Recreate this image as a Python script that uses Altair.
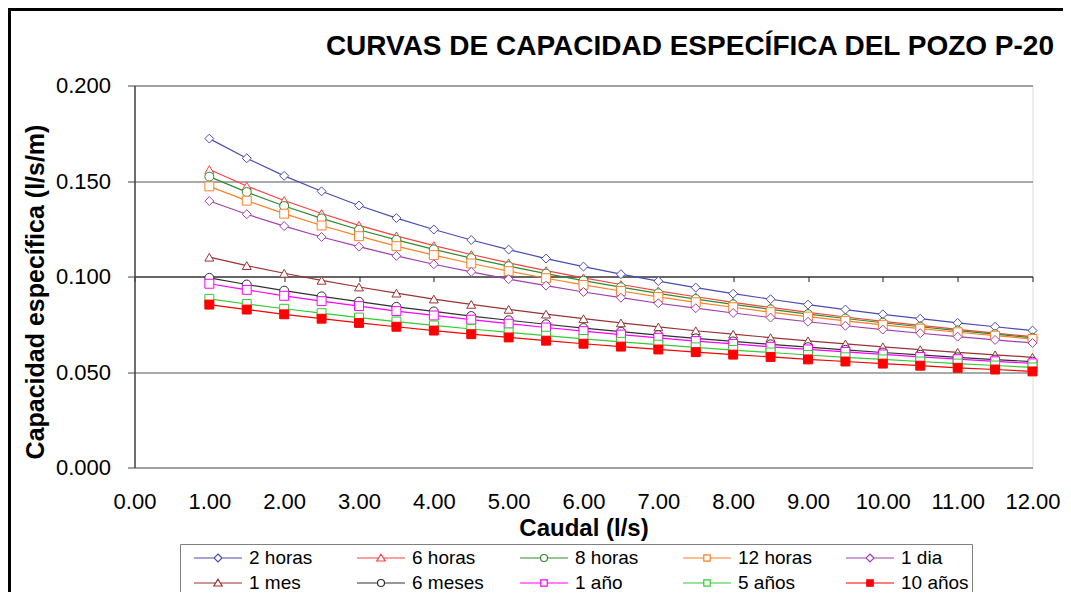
import altair as alt
import pandas as pd

# ---------------- data ----------------
caudal = [1.0, 1.5, 2.0, 2.5, 3.0, 3.5, 4.0, 4.5, 5.0, 5.5, 6.0, 6.5,
          7.0, 7.5, 8.0, 8.5, 9.0, 9.5, 10.0, 10.5, 11.0, 11.5, 12.0]

series_names = ["2 horas", "6 horas", "8 horas", "12 horas", "1 dia",
                "1 mes", "6 meses", "1 año", "5 años", "10 años"]

h2 = [0.1722, 0.1619, 0.1527, 0.1446, 0.1372, 0.1306, 0.1246, 0.1191, 0.1141, 0.1094, 0.1052, 0.1012,
      0.0976, 0.0942, 0.0910, 0.0881, 0.0853, 0.0827, 0.0802, 0.0779, 0.0757, 0.0737, 0.0717]
h6 = [0.1560, 0.1474, 0.1398, 0.1330, 0.1268, 0.1213, 0.1162, 0.1115, 0.1071, 0.1031, 0.0993, 0.0958,
      0.0925, 0.0894, 0.0865, 0.0838, 0.0812, 0.0788, 0.0765, 0.0744, 0.0723, 0.0704, 0.0685]
h8 = [0.1523, 0.1442, 0.1369, 0.1304, 0.1245, 0.1192, 0.1142, 0.1096, 0.1054, 0.1015, 0.0978, 0.0944,
      0.0912, 0.0882, 0.0854, 0.0828, 0.0803, 0.0780, 0.0758, 0.0737, 0.0717, 0.0698, 0.0679]
h12 = [0.1472, 0.1397, 0.1329, 0.1267, 0.1211, 0.1159, 0.1112, 0.1068, 0.1028, 0.0991, 0.0956, 0.0924,
       0.0893, 0.0865, 0.0839, 0.0813, 0.0790, 0.0768, 0.0747, 0.0727, 0.0708, 0.0690, 0.0673]
d1 = [0.1395, 0.1326, 0.1264, 0.1207, 0.1156, 0.1108, 0.1064, 0.1024, 0.0986, 0.0952, 0.0919, 0.0889,
      0.0860, 0.0834, 0.0809, 0.0785, 0.0763, 0.0742, 0.0722, 0.0703, 0.0685, 0.0668, 0.0652]
m1 = [0.1101, 0.1057, 0.1017, 0.0980, 0.0945, 0.0913, 0.0882, 0.0854, 0.0828, 0.0803, 0.0779, 0.0757,
      0.0736, 0.0716, 0.0698, 0.0680, 0.0663, 0.0647, 0.0632, 0.0617, 0.0603, 0.0590, 0.0577]
m6 = [0.0993, 0.0958, 0.0926, 0.0896, 0.0868, 0.0841, 0.0817, 0.0793, 0.0771, 0.0750, 0.0730, 0.0711,
      0.0693, 0.0676, 0.0660, 0.0645, 0.0630, 0.0616, 0.0602, 0.0590, 0.0577, 0.0565, 0.0554]
a1 = [0.0962, 0.0930, 0.0899, 0.0871, 0.0845, 0.0819, 0.0796, 0.0774, 0.0753, 0.0733, 0.0714, 0.0696,
      0.0679, 0.0662, 0.0647, 0.0632, 0.0618, 0.0605, 0.0592, 0.0579, 0.0567, 0.0556, 0.0545]
a5 = [0.0883, 0.0856, 0.0831, 0.0808, 0.0785, 0.0764, 0.0744, 0.0725, 0.0707, 0.0690, 0.0673, 0.0658,
      0.0643, 0.0629, 0.0615, 0.0602, 0.0589, 0.0577, 0.0566, 0.0555, 0.0544, 0.0534, 0.0524]
a10 = [0.0853, 0.0827, 0.0802, 0.0779, 0.0757, 0.0737, 0.0717, 0.0698, 0.0681, 0.0664, 0.0648, 0.0633,
       0.0618, 0.0604, 0.0591, 0.0579, 0.0566, 0.0555, 0.0544, 0.0533, 0.0522, 0.0513, 0.0503]

series_values = [h2, h6, h8, h12, d1, m1, m6, a1, a5, a10]

x_ticks = [0, 1, 2, 3, 4, 5, 6, 7, 8, 9, 10, 11, 12]
y_ticks = [0.0, 0.05, 0.10, 0.15, 0.20]

# ---------------- styles ----------------
colors = ["#4b4bb4", "#ff4040", "#2e8b2e", "#ff7f27", "#a040b0",
          "#993333", "#303030", "#ff00ff", "#33cc33", "#ff0000"]
fills = ["white"] * 9 + ["#ff0000"]
widths = [1.2] * 9 + [2.6]
shapes = ["diamond", "triangle-up", "circle", "square", "diamond",
          "triangle-up", "circle", "square", "square", "square"]

# legend symbols: a line with its marker (1 unit = 10 px)
leg_diamond = "M0,0L2.0,0M2.8,0L4.8,0M2.4,-0.4L2.8,0L2.4,0.4L2.0,0Z"
leg_triangle = "M0,0L2.165,0M2.635,0L4.8,0M2.4,-0.38L2.82,0.3L1.98,0.3Z"
leg_circle = "M0,0L2.05,0M2.75,0L4.8,0M2.75,0A0.35,0.35,0,1,1,2.05,0A0.35,0.35,0,1,1,2.75,0Z"
leg_square = "M0,0L2.08,0M2.72,0L4.8,0M2.08,-0.32L2.72,-0.32L2.72,0.32L2.08,0.32Z"
leg_shapes = [leg_diamond, leg_triangle, leg_circle, leg_square, leg_diamond,
              leg_triangle, leg_circle, leg_square, leg_square, leg_square]

rows = []
for name, vals in zip(series_names, series_values):
    for q, v in zip(caudal, vals):
        rows.append({"Q": q, "v": v, "serie": name})
df = pd.DataFrame(rows)

FONT = "Liberation Sans"
W, H = 898, 382

x_scale = alt.Scale(domain=[0, 12], nice=False, zero=False)
y_scale = alt.Scale(domain=[0, 0.2], nice=False)

stroke_scale = alt.Scale(domain=series_names, range=colors)
fill_scale = alt.Scale(domain=series_names, range=fills)
width_scale = alt.Scale(domain=series_names, range=widths)

x_main = alt.X("Q:Q", scale=x_scale, axis=alt.Axis(
    values=x_ticks, format=".2f", title="Caudal (l/s)", orient="bottom",
    domain=False, ticks=False, tickSize=0, labelPadding=24, labelFontSize=22,
    labelFont=FONT, labelColor="black", labelFlush=False, labelOverlap=False,
    titleFont=FONT, titleFontSize=24, titleFontWeight="bold", titleColor="black",
    titlePadding=4, grid=False))

y_main = alt.Y("v:Q", scale=y_scale, axis=alt.Axis(
    values=y_ticks, format=".3f", title="Capacidad específica (l/s/m)", orient="left",
    grid=True, gridColor="#555555", gridWidth=1,
    domainColor="#444444", domainWidth=1.5, tickColor="#444444", tickSize=7,
    labelPadding=17, labelFontSize=22, labelFont=FONT, labelColor="black",
    titleFont=FONT, titleFontSize=25, titleFontWeight="bold", titleColor="black",
    titlePadding=7, titleY=206))

lines = alt.Chart(df).mark_line(interpolate="linear").encode(
    x=x_main,
    y=y_main,
    stroke=alt.Stroke("serie:N", scale=stroke_scale, legend=None),
    strokeWidth=alt.StrokeWidth("serie:N", scale=width_scale, legend=None),
    detail="serie:N",
)

points = alt.Chart(df).mark_point(size=80, strokeWidth=1, opacity=1).encode(
    x=alt.X("Q:Q", scale=x_scale, axis=None),
    y=alt.Y("v:Q", scale=y_scale, axis=None),
    stroke=alt.Stroke("serie:N", scale=stroke_scale, legend=None),
    fill=alt.Fill("serie:N", scale=fill_scale, legend=None),
    shape=alt.Shape("serie:N", scale=alt.Scale(domain=series_names, range=shapes), legend=None),
)

leg = alt.Legend(
    title=None, orient="none", legendX=45.5, legendY=458.5, columns=5,
    direction="horizontal", gridAlign="all", columnPadding=23, rowPadding=4,
    symbolSize=400, labelOffset=44, labelFont=FONT, labelFontSize=19,
    labelColor="black", strokeColor="#808080", padding=3, symbolLimit=0,
)

legend_layer = alt.Chart(df).transform_filter("datum.Q < 0").mark_point(size=400, opacity=1).encode(
    x=alt.X("Q:Q", scale=x_scale, axis=alt.Axis(
        orient="bottom", offset=-191, values=x_ticks, labels=False, title=None,
        ticks=True, tickSize=5, tickColor="#222222", domain=True, domainColor="#222222",
        domainWidth=1, grid=False)),
    y=alt.Y("v:Q", scale=y_scale, axis=None),
    stroke=alt.Stroke("serie:N", scale=stroke_scale, legend=leg),
    fill=alt.Fill("serie:N", scale=fill_scale, legend=leg),
    strokeWidth=alt.StrokeWidth("serie:N", scale=width_scale, legend=leg),
    shape=alt.Shape("serie:N", scale=alt.Scale(domain=series_names, range=leg_shapes), legend=leg),
)

frame_df = pd.DataFrame({"k": [0]})
frame_left = alt.Chart(frame_df).mark_rule(color="black", strokeWidth=3).encode(
    x=alt.value(-125), y=alt.value(-77.5), y2=alt.value(560))
frame_top = alt.Chart(frame_df).mark_rule(color="black", strokeWidth=3).encode(
    x=alt.value(-126.5), x2=alt.value(980), y=alt.value(-76))

chart = alt.layer(lines, points, legend_layer, frame_left, frame_top).resolve_scale(
    stroke="independent", fill="independent", shape="independent", strokeWidth="independent"
).resolve_axis(x="independent", y="independent").properties(
    width=W, height=H,
    autosize=alt.AutoSizeParams(type="none"),
    padding={"left": 126.5, "top": 77.5, "right": 30, "bottom": 124.5},
    title=alt.TitleParams(
        text="CURVAS DE CAPACIDAD ESPECÍFICA DEL POZO P-20", anchor="end",
        font=FONT, fontSize=28, fontWeight="bold", color="black",
        offset=0, dx=-62, dy=76, baseline="alphabetic"),
).configure_view(stroke="#808080", strokeWidth=1).configure(background="white")

chart.save("out.html", embed_options={"renderer": "svg", "actions": False})
